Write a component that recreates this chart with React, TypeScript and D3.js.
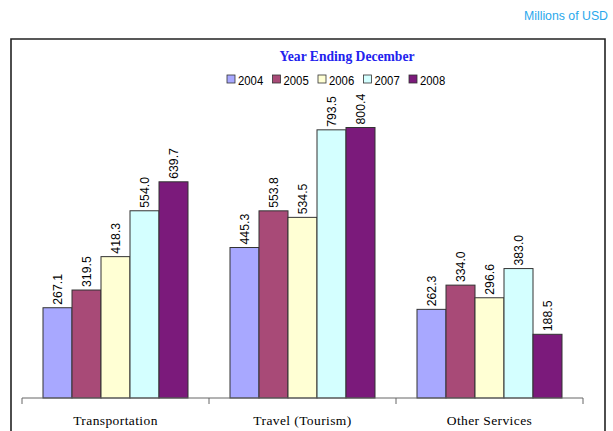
import React from "react";
import * as d3 from "d3";

const categories = ["Transportation", "Travel (Tourism)", "Other Services"];
const years = ["2004", "2005", "2006", "2007", "2008"];
const values2004 = [267.1, 445.3, 262.3];
const values2005 = [319.5, 553.8, 334.0];
const values2006 = [418.3, 534.5, 296.6];
const values2007 = [554.0, 793.5, 383.0];
const values2008 = [639.7, 800.4, 188.5];
const seriesValues = [values2004, values2005, values2006, values2007, values2008];
const colors = ["#a8a8ff", "#a84a77", "#ffffd4", "#d4ffff", "#7b1a7b"];

const W = 613;
const H = 431;
const baseY = 398;

export default function App() {
  const x0 = d3.scaleBand<string>().domain(categories).range([22, 583]).paddingInner(0).paddingOuter(0);
  const groupW = x0.bandwidth();
  const x1 = d3.scaleBand<string>().domain(years).range([21, groupW - 21]).padding(0);
  const y = d3.scaleLinear().domain([0, 800.4]).range([baseY, 127.5]);

  const legendX = 227;
  const legendStep = 45.5;

  return (
    <svg width={W} height={H} style={{ position: "absolute", left: 0, top: 0 }}>
      <rect x={0} y={0} width={W} height={H} fill="#ffffff" />
      <text x={608} y={20} textAnchor="end" fontFamily="Liberation Sans, Arial, sans-serif" fontSize={12.3} fill="#2aa8ec">
        Millions of USD
      </text>
      <path d={`M11,${H + 2}V39H605V${H + 2}`} fill="none" stroke="#222" strokeWidth={1.6} />
      <text x={347} y={61} textAnchor="middle" fontFamily="Liberation Serif, Times New Roman, serif" fontWeight="bold" fontSize={13.6} fill="#2222ee">
        Year Ending December
      </text>
      {years.map((yr, i) => (
        <g key={yr} transform={`translate(${legendX + i * legendStep},0)`}>
          <rect x={0} y={75} width={8} height={8} fill={colors[i]} stroke="#333" strokeWidth={0.8} />
          <text
            transform="translate(11,84.5) scale(0.84,1)"
            fontFamily="Liberation Sans, Arial, sans-serif"
            fontSize={13.5}
            fill="#000"
          >
            {yr}
          </text>
        </g>
      ))}
      {categories.map((cat, ci) => (
        <g key={cat} transform={`translate(${x0(cat)},0)`}>
          {years.map((yr, si) => {
            const v = seriesValues[si][ci];
            const bx = x1(yr)!;
            const bw = x1.bandwidth();
            const top = y(v);
            return (
              <g key={yr}>
                <rect x={bx} y={top} width={bw} height={baseY - top} fill={colors[si]} stroke="#333" strokeWidth={1} />
                <text
                  transform={`translate(${bx + bw / 2 + 4.5},${top - 3}) rotate(-90)`}
                  fontFamily="Liberation Sans, Arial, sans-serif"
                  fontSize={12.3}
                  fill="#000"
                >
                  {v.toFixed(1)}
                </text>
              </g>
            );
          })}
          <text
            x={groupW / 2}
            y={425}
            textAnchor="middle"
            fontFamily="Liberation Serif, Times New Roman, serif"
            fontSize={13.5}
            letterSpacing={0.4}
            fill="#000"
          >
            {cat}
          </text>
        </g>
      ))}
      <line x1={22} x2={583} y1={baseY} y2={baseY} stroke="#666" strokeWidth={1} />
      {[...categories.map((c) => x0(c)!), 583].map((tx, i) => (
        <line key={i} x1={tx} x2={tx} y1={baseY} y2={baseY + 6} stroke="#666" strokeWidth={1} />
      ))}
    </svg>
  );
}
